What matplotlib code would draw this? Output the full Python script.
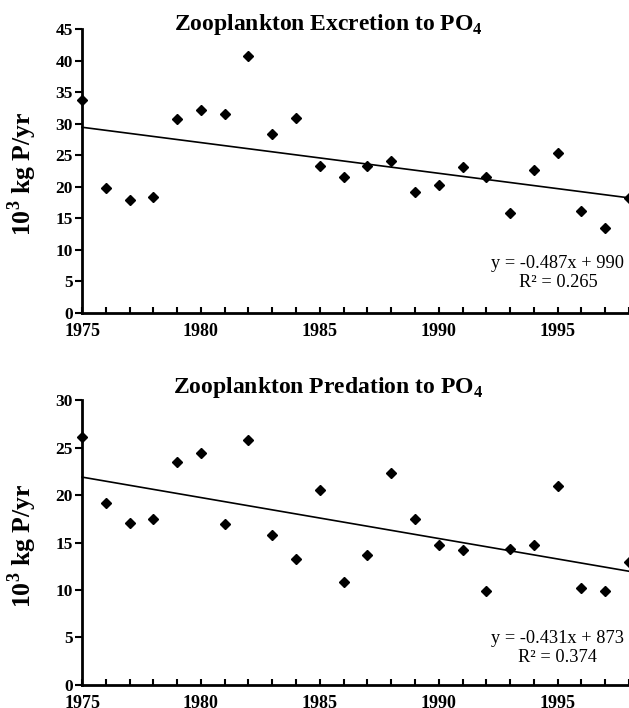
import numpy as np
import matplotlib
matplotlib.use("Agg")
import matplotlib.pyplot as plt

years = list(range(1975, 1999))
excretion = [33.8, 19.8, 17.9, 18.4, 30.7, 32.1, 31.6, 40.7, 28.3, 30.9, 23.3, 21.5,
             23.3, 24.1, 19.2, 20.3, 23.1, 21.6, 15.8, 22.7, 25.3, 16.2, 13.4, 18.2]
predation = [26.1, 19.2, 17.1, 17.5, 23.5, 24.4, 16.9, 25.8, 15.8, 13.3, 20.5, 10.8,
             13.7, 22.3, 17.5, 14.7, 14.2, 9.9, 14.3, 14.7, 21.0, 10.2, 9.9, 13.0]
titles = ["Zooplankton Excretion to PO$_\\mathbf{4}$", "Zooplankton Predation to PO$_\\mathbf{4}$"]
equations = ["y = -0.487x + 990\nR\u00b2 = 0.265", "y = -0.431x + 873\nR\u00b2 = 0.374"]
ylims = [45, 30]
xticks = [1975, 1980, 1985, 1990, 1995]

plt.rcParams['font.family'] = ['Liberation Serif', 'DejaVu Serif']
plt.rcParams['mathtext.fontset'] = 'custom'
plt.rcParams['mathtext.rm'] = 'Liberation Serif'
plt.rcParams['mathtext.bf'] = 'Liberation Serif:bold'

fig = plt.figure(figsize=(6.29, 7.08), dpi=100)
positions = [[0.1304, 0.5579, 0.8696, 0.4011], [0.1304, 0.0325, 0.8696, 0.4025]]
title_y = [0.958, 0.445]
eq_y = [0.141, 0.13]

for pos, vals, title, eq, ymax, ty, ey in zip(positions, [excretion, predation], titles,
                                               equations, ylims, title_y, eq_y):
    ax = fig.add_axes(pos)
    x = np.array(years, dtype=float)
    y = np.array(vals)
    ax.plot(x, y, linestyle='none', marker='D', color='black', markersize=5.5, clip_on=False, zorder=3)
    slope, intercept = np.polyfit(x, y, 1)
    xx = np.array([1975, 1998])
    ax.plot(xx, slope * xx + intercept, color='black', linewidth=1.2, clip_on=False)
    ax.set_xlim(1975, 1998)
    ax.set_ylim(0, ymax)
    ax.set_xticks(xticks)
    ax.set_xticks(years, minor=True)
    ax.set_yticks(np.arange(0, ymax + 1, 5))
    for s in ['top', 'right']:
        ax.spines[s].set_visible(False)
    for s in ['left', 'bottom']:
        ax.spines[s].set_linewidth(2)
    ax.tick_params(axis='x', which='both', direction='in', length=4, width=1.5, pad=7)
    ax.tick_params(axis='y', direction='out', length=5, width=1.5, pad=1.5)
    for lab in ax.get_xticklabels():
        lab.set_fontweight('bold')
        lab.set_fontsize(13)
    for lab in ax.get_yticklabels():
        lab.set_fontweight('bold')
        lab.set_fontsize(12.5)
    fig.text(0.522, ty, title, fontsize=17, fontweight='bold', ha='center', va='baseline')
    ax.set_ylabel("10$^{\\mathbf{3}}$ kg P/yr", fontsize=18.5, fontweight='bold')
    ax.yaxis.set_label_coords(-0.078, 0.49)
    ax.text(0.87, ey, eq, transform=ax.transAxes, ha='center', va='center',
            fontsize=13.2, linespacing=1.1)

fig.savefig("out.png", dpi=100)
